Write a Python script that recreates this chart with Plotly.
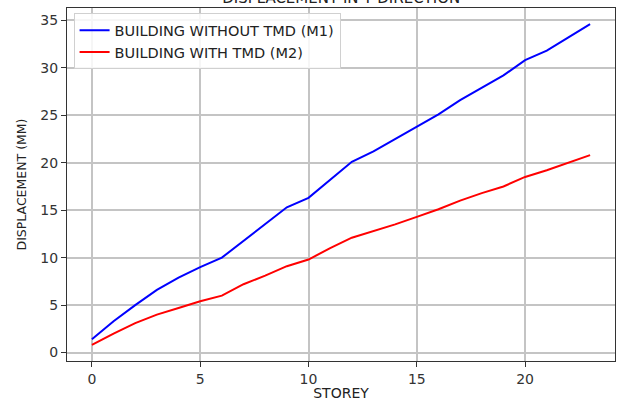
import plotly.graph_objects as go

storey = list(range(24))
without_tmd = [1.4, 3.3, 5.0, 6.6, 7.9, 9.0, 10.0, 11.8, 13.5, 15.3, 16.3, 18.2,
               20.1, 21.2, 22.5, 23.8, 25.1, 26.6, 27.9, 29.2, 30.8, 31.8, 33.2, 34.6]
with_tmd = [0.8, 2.0, 3.1, 4.0, 4.7, 5.4, 6.0, 7.2, 8.1, 9.1, 9.8, 11.0,
            12.1, 12.8, 13.5, 14.3, 15.1, 16.0, 16.8, 17.5, 18.5, 19.2, 20.0, 20.8]
x_ticks = [0, 5, 10, 15, 20]
y_ticks = [0, 5, 10, 15, 20, 25, 30, 35]

FONT = "DejaVu Sans"
fig = go.Figure()
fig.add_trace(go.Scatter(x=storey, y=without_tmd, mode="lines",
                         name="BUILDING WITHOUT TMD (M1)",
                         line=dict(color="#0000ff", width=2)))
fig.add_trace(go.Scatter(x=storey, y=with_tmd, mode="lines",
                         name="BUILDING WITH TMD (M2)",
                         line=dict(color="#ff0000", width=2)))

axis_common = dict(showgrid=True, gridcolor="#c4c4c4", gridwidth=1.5,
                   showline=True, linecolor="#333333", linewidth=1.3, mirror=True,
                   ticks="outside", ticklen=5, tickcolor="#333333", automargin=False,
                   zeroline=False, tickfont=dict(family=FONT, size=14, color="#333333"))

fig.update_layout(
    width=617, height=401,
    margin=dict(l=67, r=2, t=8, b=40),
    paper_bgcolor="white", plot_bgcolor="white",
    font=dict(family=FONT, size=14, color="#222222"),
    title=dict(text="DISPLACEMENT IN Y DIRECTION", x=0.553, xanchor="center",
               y=0.992, yanchor="bottom", yref="container", automargin=False,
               font=dict(family=FONT, size=15, color="#222222")),
    xaxis=dict(range=[-1.15, 24.15], tickvals=x_ticks,
               title=dict(text="STOREY", standoff=2, font=dict(family=FONT, size=14)),
               **axis_common),
    yaxis=dict(range=[-0.89, 36.3], tickvals=y_ticks,
               title=dict(text="DISPLACEMENT (MM)", standoff=10, font=dict(family=FONT, size=12.5)),
               **axis_common),
    legend=dict(x=0.012, y=0.985, xanchor="left", yanchor="top",
                bgcolor="rgba(255,255,255,0.85)", bordercolor="#d0d0d0", borderwidth=1,
                font=dict(family=FONT, size=14.5, color="#222222")),
    showlegend=True,
)

fig.write_html("out.html", config={"displayModeBar": False},
               post_script="document.body.style.margin='0';document.body.style.overflow='hidden';")
